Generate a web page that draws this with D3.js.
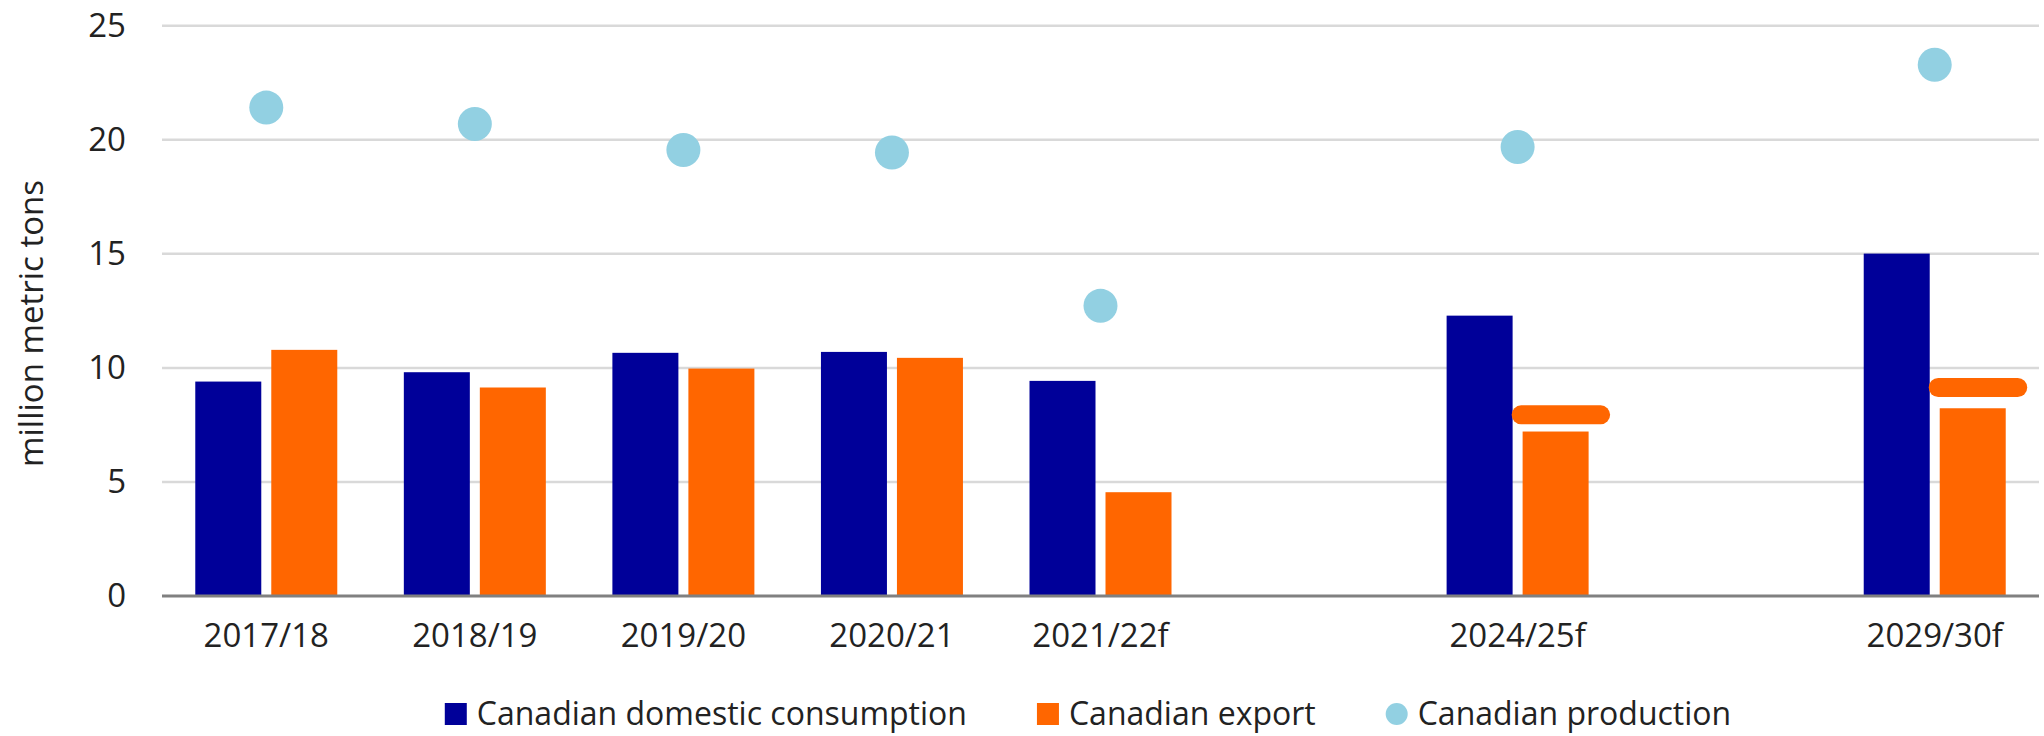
<!DOCTYPE html>
<html>
<head>
<meta charset="utf-8">
<script src="https://cdn.jsdelivr.net/npm/d3@7"></script>
<style>
  html, body { margin: 0; padding: 0; background: #fff; }
  svg { display: block; }
  text { font-family: "Open Sans", sans-serif; fill: #222; }
</style>
</head>
<body>
<svg id="chart" width="2044" height="736"></svg>
<script>
// ---- data ----
const categories = ["2017/18", "2018/19", "2019/20", "2020/21", "2021/22f", "2024/25f", "2029/30f"];
// empty slots on the time axis (years not shown)
const slots = ["2017/18", "2018/19", "2019/20", "2020/21", "2021/22f", "gap-1", "2024/25f", "gap-2", "2029/30f"];
const domesticConsumption = [9.40, 9.81, 10.66, 10.70, 9.43, 12.29, 15.01];
const exportValues = [10.79, 9.14, 9.97, 10.44, 4.55, 7.21, 8.23];
const production = [21.41, 20.69, 19.55, 19.44, 12.72, 19.68, 23.29];
const exportTarget = [null, null, null, null, null, 7.94, 9.14];
const yTicks = [0, 5, 10, 15, 20, 25];
const seriesNames = ["Canadian domestic consumption", "Canadian export", "Canadian production"];
const yTitle = "million metric tons";

// ---- style ----
const colors = { domestic: "#000099", export: "#ff6600", production: "#92d0e2" };
const fontSize = 33;
const legendFontSize = 32;

// ---- layout ----
const plot = { left: 162, right: 2039, top: 25.7, bottom: 596 };
const svg = d3.select("#chart");

const x = d3.scaleBand().domain(slots).range([plot.left, plot.right]).padding(0);
const bw = x.bandwidth();
const x1 = d3.scaleBand().domain(["domestic", "export"])
  .range([bw / 2 - 71, bw / 2 + 71]).paddingInner(10 / 76).paddingOuter(0);
const y = d3.scaleLinear().domain([0, 25]).range([plot.bottom, plot.top]);

const rows = categories.map((c, i) => ({
  cat: c, domestic: domesticConsumption[i], export: exportValues[i],
  production: production[i], target: exportTarget[i]
}));

// gridlines
svg.append("g").selectAll("line")
  .data(yTicks.filter(d => d > 0))
  .join("line")
  .attr("x1", plot.left).attr("x2", plot.right)
  .attr("y1", d => y(d)).attr("y2", d => y(d))
  .attr("stroke", "#d9d9d9").attr("stroke-width", 2.5);

// y axis labels
const yAxis = svg.append("g")
  .attr("transform", `translate(${plot.left},0)`)
  .call(d3.axisLeft(y).tickValues(yTicks).tickSize(0).tickPadding(36));
yAxis.select(".domain").remove();
yAxis.selectAll("text").style("font-size", fontSize + "px").style("font-family", "Open Sans").attr("fill", "#222");

// bars
const groups = svg.append("g").selectAll("g")
  .data(rows).join("g")
  .attr("transform", d => `translate(${x(d.cat)},0)`);

groups.append("rect")
  .attr("x", x1("domestic")).attr("width", x1.bandwidth())
  .attr("y", d => y(d.domestic)).attr("height", d => y(0) - y(d.domestic))
  .attr("fill", colors.domestic);

groups.append("rect")
  .attr("x", x1("export")).attr("width", x1.bandwidth())
  .attr("y", d => y(d.export)).attr("height", d => y(0) - y(d.export))
  .attr("fill", colors.export);

// export target markers
const markerH = 19, markerW = 98.5;
groups.filter(d => d.target != null).append("rect")
  .attr("x", bw / 2 - 6).attr("width", markerW)
  .attr("y", d => y(d.target) - markerH / 2).attr("height", markerH)
  .attr("rx", markerH / 2).attr("ry", markerH / 2)
  .attr("fill", colors.export);

// production dots
groups.append("circle")
  .attr("cx", bw / 2).attr("cy", d => y(d.production)).attr("r", 17)
  .attr("fill", colors.production);

// baseline
svg.append("line")
  .attr("x1", plot.left).attr("x2", plot.right)
  .attr("y1", y(0)).attr("y2", y(0))
  .attr("stroke", "#808080").attr("stroke-width", 3);

// x axis labels
const xAxis = svg.append("g")
  .attr("transform", `translate(0,${plot.bottom})`)
  .call(d3.axisBottom(x).tickValues(categories).tickSize(0));
xAxis.select(".domain").remove();
xAxis.selectAll("text")
  .attr("y", 51).attr("dy", null)
  .style("font-size", fontSize + "px").style("font-family", "Open Sans").attr("fill", "#222");

// y title
svg.append("text")
  .attr("transform", "translate(43,323.5) rotate(-90)")
  .attr("text-anchor", "middle")
  .style("font-size", fontSize + "px")
  .text(yTitle);

// legend
const legend = svg.append("g");
const legendItems = [
  { name: seriesNames[0], color: colors.domestic, shape: "rect" },
  { name: seriesNames[1], color: colors.export, shape: "rect" },
  { name: seriesNames[2], color: colors.production, shape: "circle" }
];
let lx = 0;
const baseY = 725;
legendItems.forEach(it => {
  const g = legend.append("g").attr("transform", `translate(${lx},0)`);
  if (it.shape === "rect") {
    g.append("rect").attr("x", 0).attr("y", baseY - 22).attr("width", 22).attr("height", 22).attr("fill", it.color);
  } else {
    g.append("circle").attr("cx", 11).attr("cy", baseY - 11).attr("r", 11).attr("fill", it.color);
  }
  const t = g.append("text").attr("x", 32).attr("y", baseY)
    .style("font-size", legendFontSize + "px").text(it.name);
  lx += 32 + t.node().getComputedTextLength() + 70;
});
const legendW = lx - 70;
legend.attr("transform", `translate(${1088 - legendW / 2},0)`);
</script>
</body>
</html>
